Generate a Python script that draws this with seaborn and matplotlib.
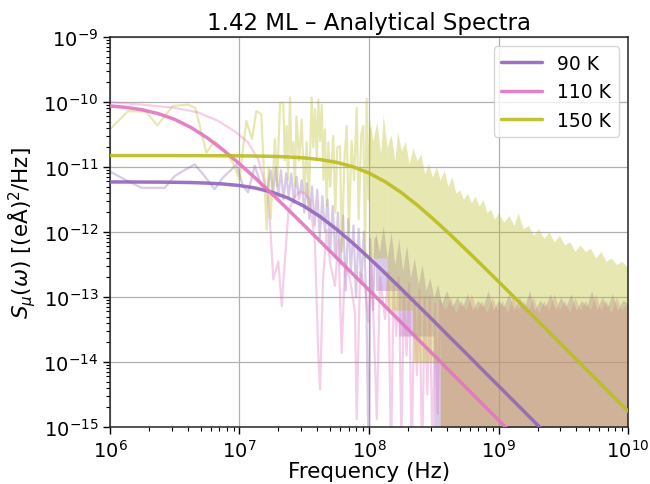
import numpy as np
import matplotlib
matplotlib.use("Agg")
import matplotlib.pyplot as plt
import seaborn as sns
from matplotlib.ticker import LogLocator, NullFormatter

# ---------------- data ----------------
labels = ["90 K", "110 K", "150 K"]
colors = ["#9467bd", "#e377c2", "#bcbd22"]

# analytical Lorentzian spectra, read at 1/8-decade frequencies
freq_grid = [1e6, 1.334e6, 1.778e6, 2.371e6, 3.162e6, 4.217e6, 5.623e6, 7.499e6,
             1e7, 1.334e7, 1.778e7, 2.371e7, 3.162e7, 4.217e7, 5.623e7, 7.499e7,
             1e8, 1.334e8, 1.778e8, 2.371e8, 3.162e8, 4.217e8, 5.623e8, 7.499e8,
             1e9, 1.334e9, 1.778e9, 2.371e9, 3.162e9, 4.217e9, 5.623e9, 7.499e9, 1e10]
analytic_90 = [5.89e-12, 5.89e-12, 5.87e-12, 5.86e-12, 5.82e-12, 5.77e-12, 5.66e-12, 5.48e-12,
               5.19e-12, 4.74e-12, 4.11e-12, 3.33e-12, 2.49e-12, 1.71e-12, 1.10e-12, 6.76e-13,
               4.00e-13, 2.32e-13, 1.33e-13, 7.53e-14, 4.27e-14, 2.40e-14, 1.36e-14, 7.62e-15,
               4.30e-15, 2.42e-15, 1.36e-15, 7.64e-16, 4.30e-16, 2.42e-16, 1.36e-16, 7.64e-17,
               4.30e-17]
analytic_110 = [8.70e-11, 8.26e-11, 7.59e-11, 6.61e-11, 5.40e-11, 4.06e-11, 2.82e-11, 1.82e-11,
                1.12e-11, 6.67e-12, 3.87e-12, 2.22e-12, 1.26e-12, 7.13e-13, 4.02e-13, 2.26e-13,
                1.28e-13, 7.18e-14, 4.04e-14, 2.27e-14, 1.28e-14, 7.18e-15, 4.04e-15, 2.27e-15,
                1.28e-15, 7.18e-16, 4.04e-16, 2.27e-16, 1.28e-16, 7.18e-17, 4.04e-17, 2.27e-17,
                1.28e-17]
analytic_150 = [1.500e-11, 1.500e-11, 1.500e-11, 1.500e-11, 1.500e-11, 1.497e-11, 1.496e-11, 1.493e-11,
                1.486e-11, 1.476e-11, 1.459e-11, 1.432e-11, 1.380e-11, 1.300e-11, 1.180e-11, 1.012e-11,
                8.07e-12, 5.93e-12, 4.04e-12, 2.57e-12, 1.56e-12, 9.20e-13, 5.32e-13, 3.04e-13,
                1.73e-13, 9.75e-14, 5.50e-14, 3.10e-14, 1.74e-14, 9.82e-15, 5.52e-15, 3.10e-15,
                1.75e-15]

# measured (noisy) spectra: resolved part, log10(frequency) and log10(S)
trace90_logf = [6.0, 6.113, 6.242, 6.422, 6.5, 6.564, 6.654, 6.718, 6.808, 6.873,
                6.937, 6.976, 7.027, 7.066, 7.118, 7.168, 7.215,
                7.24, 7.26, 7.28, 7.30, 7.32, 7.34, 7.36, 7.38, 7.40, 7.42, 7.44, 7.46,
                7.48, 7.50, 7.52, 7.54, 7.56, 7.58, 7.60, 7.62, 7.64, 7.66, 7.68, 7.70,
                7.72, 7.74, 7.76, 7.78, 7.80, 7.82, 7.84, 7.86, 7.88, 7.90, 7.92, 7.94,
                7.96, 7.98, 8.0, 8.01, 8.03, 8.05]
trace90_logs = [-11.07, -11.19, -11.32, -11.32, -11.14, -11.06, -10.96, -11.11, -11.34, -11.16,
                -11.04, -10.96, -11.29, -11.39, -10.98, -11.29, -11.34,
                -11.05, -11.4, -11.0, -11.45, -11.05, -11.5, -11.1, -11.45, -11.1, -11.55,
                -11.15, -11.5, -11.2, -11.7, -11.25, -11.8, -11.3, -11.9, -11.35, -12.1,
                -11.45, -12.0, -11.5, -12.3, -11.6, -12.4, -11.7, -12.5, -11.75, -12.9,
                -11.8, -12.6, -11.9, -13.0, -11.95, -12.8, -12.0, -13.1,
                -16.0, -12.1, -13.2, -12.1]

trace110_logf = [6.0, 6.24, 6.5, 6.68, 6.834, 6.963, 7.066, 7.143, 7.181, 7.215,
                 7.24, 7.261, 7.3, 7.326, 7.351, 7.377, 7.415, 7.454, 7.493, 7.544,
                 7.583, 7.608, 7.622, 7.645, 7.673, 7.699, 7.737, 7.763, 7.789, 7.815,
                 7.853, 7.892, 7.905, 7.931, 7.969, 7.995, 8.021, 8.06, 8.085, 8.124,
                 8.149, 8.17, 8.19, 8.21, 8.23, 8.25, 8.27, 8.29, 8.31, 8.33,
                 8.35, 8.37, 8.39, 8.41, 8.43, 8.45, 8.47, 8.49, 8.51, 8.53, 8.55]
trace110_logs = [-10.0, -10.04, -10.09, -10.16, -10.29, -10.45, -10.62, -10.88, -11.14, -11.39,
                 -12.0, -12.73, -12.45, -13.14, -12.42, -11.7, -11.5, -11.39, -11.39, -11.5,
                 -12.2, -13.85, -14.42, -12.73, -11.96, -12.47, -12.83, -12.12, -13.86, -12.47,
                 -12.73, -13.24, -14.88, -12.62, -12.83, -13.39, -12.47, -14.88, -12.7, -13.34,
                 -12.62, -15.5, -12.8, -13.6, -12.7, -15.2, -12.9, -13.9, -12.8, -15.5,
                 -13.0, -14.2, -12.9, -15.6, -13.0, -14.5, -13.0, -15.5, -13.1, -14.8, -13.05]

trace150_logf = [6.0, 6.139, 6.28, 6.365, 6.486, 6.602, 6.659, 6.744, 6.808, 6.873,
                 6.942, 7.0, 7.053, 7.097, 7.13, 7.168, 7.195, 7.21, 7.225, 7.24,
                 7.274, 7.29, 7.313, 7.338, 7.35, 7.364, 7.375, 7.39, 7.40, 7.415,
                 7.428, 7.44, 7.46, 7.48, 7.50, 7.519, 7.535, 7.557, 7.57, 7.583,
                 7.597, 7.609, 7.622, 7.635, 7.648, 7.66, 7.673, 7.686, 7.70, 7.724,
                 7.74, 7.755, 7.776, 7.79, 7.81, 7.828, 7.845, 7.865, 7.885, 7.905,
                 7.92, 7.94, 7.956, 7.97, 7.982, 7.995, 8.01]
trace150_logs = [-10.42, -10.14, -10.15, -10.36, -10.06, -10.04, -10.09, -10.78, -10.6, -10.73,
                 -10.91, -11.19, -10.29, -10.57, -10.14, -10.19, -11.34, -11.96, -11.0, -11.8,
                 -10.57, -11.3, -10.01, -10.01, -10.9, -10.37, -11.2, -9.93, -10.8, -10.62,
                 -11.3, -10.22, -10.9, -10.27, -11.4, -10.62, -11.6, -9.93, -10.7, -10.11,
                 -10.9, -9.96, -10.6, -10.04, -11.2, -10.42, -11.6, -10.62, -11.3, -10.52,
                 -11.7, -10.7, -10.68, -12.3, -10.9, -10.37, -12.0, -10.6, -11.2, -10.09,
                 -11.8, -10.5, -10.37, -12.4, -9.95, -11.5, -10.4]

# measured spectra: dense high-frequency part, upper envelope (log10)
env90_logf = [8.05, 8.08, 8.11, 8.14, 8.17, 8.20, 8.23, 8.26, 8.29, 8.32, 8.35, 8.38,
              8.41, 8.44, 8.47, 8.50, 8.53, 8.56, 8.60, 8.64, 8.68, 8.72, 8.76, 8.80,
              8.84, 8.88, 8.92, 8.96, 9.00, 9.04, 9.08, 9.12, 9.16, 9.20, 9.24, 9.28,
              9.32, 9.36, 9.40, 9.44, 9.48, 9.52, 9.56, 9.60, 9.64, 9.68, 9.72, 9.76,
              9.80, 9.84, 9.88, 9.92, 9.96, 10.0]
env90_logs = [-12.0, -12.3, -11.9, -12.4, -12.0, -12.5, -12.1, -12.6, -12.2, -12.7, -12.4, -12.8,
              -12.5, -12.9, -12.7, -13.0, -12.8, -13.1, -12.9, -13.15, -13.0, -13.15, -12.95, -13.2,
              -13.05, -13.15, -12.9, -13.2, -13.05, -13.15, -12.95, -13.2, -13.0, -13.15, -12.9, -13.2,
              -13.05, -13.15, -12.95, -13.2, -13.0, -13.15, -12.95, -13.2, -13.05, -13.15, -12.9, -13.2,
              -13.0, -13.15, -12.95, -13.2, -13.05, -13.1]

env110_logf = [8.55, 8.59, 8.63, 8.67, 8.71, 8.75, 8.79, 8.83, 8.87, 8.91, 8.95, 8.99,
               9.03, 9.07, 9.11, 9.15, 9.19, 9.23, 9.27, 9.31, 9.35, 9.39, 9.43, 9.47,
               9.51, 9.55, 9.59, 9.63, 9.67, 9.71, 9.75, 9.79, 9.83, 9.87, 9.91, 9.95, 10.0]
env110_logs = [-13.05, -13.2, -13.0, -13.25, -13.05, -13.2, -12.95, -13.2, -13.05, -13.25,
               -13.0, -13.2, -13.05, -13.25, -12.95, -13.2, -13.05, -13.2, -13.0, -13.25,
               -13.05, -13.2, -12.95, -13.2, -13.05, -13.25, -13.0, -13.2, -13.05, -13.2,
               -12.95, -13.2, -13.05, -13.25, -13.0, -13.2, -13.1]

env150_logf = [8.0, 8.03, 8.06, 8.09, 8.11, 8.14, 8.17, 8.2, 8.22, 8.25, 8.28, 8.31,
               8.34, 8.37, 8.40, 8.43, 8.46, 8.49, 8.52, 8.55, 8.58, 8.61, 8.64, 8.67,
               8.70, 8.73, 8.76, 8.79, 8.82, 8.85, 8.88, 8.91, 8.94, 8.97, 9.0, 9.04,
               9.08, 9.12, 9.15, 9.19, 9.23, 9.27, 9.31, 9.35, 9.39, 9.43, 9.47, 9.51,
               9.55, 9.59, 9.63, 9.67, 9.71, 9.75, 9.79, 9.83, 9.87, 9.91, 9.95, 10.0]
env150_logs = [-10.2, -10.6, -10.3, -10.8, -10.2, -10.7, -10.5, -10.9, -10.45, -10.75,
               -10.6, -10.95, -10.7, -10.9, -10.8, -11.1, -10.95, -11.15, -11.0, -11.2,
               -11.05, -11.3, -11.15, -11.4, -11.35, -11.5, -11.4, -11.55, -11.45, -11.6,
               -11.5, -11.7, -11.65, -11.8, -11.7, -11.85, -11.75, -11.9, -11.7, -11.95,
               -11.9, -12.05, -11.95, -12.1, -12.0, -12.15, -12.05, -12.2, -12.15, -12.3,
               -12.2, -12.3, -12.25, -12.4, -12.3, -12.45, -12.4, -12.5, -12.45, -12.55]

# lower edges of the dense regions: (start log f, end log f, log10 floor)
floors90 = [(8.05, 8.23, -12.9), (8.23, 8.50, -13.6), (8.50, 10.0, -16.0)]
floors110 = [(8.55, 10.0, -16.0)]
floors150 = [(8.0, 8.14, -12.4), (8.14, 8.34, -13.2), (8.34, 8.55, -14.0), (8.55, 10.0, -16.0)]

# ---------------- plotting ----------------
sns.set_style("ticks")
plt.rcParams["font.family"] = ["DejaVu Sans"]
plt.rcParams["text.color"] = "black"
plt.rcParams["axes.labelcolor"] = "black"
plt.rcParams["xtick.color"] = "black"
plt.rcParams["ytick.color"] = "black"

fig = plt.figure(figsize=(6.5, 4.85), dpi=100)
ax = fig.add_axes([0.1692, 0.1175, 0.797, 0.8041])
ax.set_xscale("log")
ax.set_yscale("log")

series = [
    (trace90_logf, trace90_logs, env90_logf, env90_logs, floors90),
    (trace110_logf, trace110_logs, env110_logf, env110_logs, floors110),
    (trace150_logf, trace150_logs, env150_logf, env150_logs, floors150),
]

for (tf, ts, ef, es, floors), col in zip(series, colors):
    tf = np.power(10.0, np.array(tf))
    ts = np.power(10.0, np.array(ts))
    sns.lineplot(x=tf, y=ts, color=col, alpha=0.35, lw=1.6, ax=ax,
                 estimator=None, sort=False, legend=False, zorder=2)
    ef_log = np.array(ef)
    ef_lin = np.power(10.0, ef_log)
    es_lin = np.power(10.0, np.array(es))
    for lo, hi, fl in floors:
        m = (ef_log >= lo - 1e-9) & (ef_log <= hi + 1e-9)
        ax.fill_between(ef_lin[m], 10.0 ** fl, es_lin[m], color=col, alpha=0.35,
                        lw=0, zorder=2)

handles = []
for an, col in zip([analytic_90, analytic_110, analytic_150], colors):
    sns.lineplot(x=freq_grid, y=an, color=col, lw=2.5, alpha=0.92, ax=ax,
                 estimator=None, sort=False, legend=False, zorder=3)
    handles.append(ax.lines[-1])

ax.set_xlim(1e6, 1e10)
ax.set_ylim(1e-15, 1e-9)

ax.xaxis.set_major_locator(LogLocator(base=10, numticks=20))
ax.yaxis.set_major_locator(LogLocator(base=10, numticks=20))
ax.xaxis.set_minor_locator(LogLocator(base=10, subs=np.arange(2, 10), numticks=100))
ax.yaxis.set_minor_locator(LogLocator(base=10, subs=np.arange(2, 10), numticks=100))
ax.xaxis.set_minor_formatter(NullFormatter())
ax.yaxis.set_minor_formatter(NullFormatter())

ax.grid(True, which="major", color="#b0b0b0", lw=0.9)
ax.tick_params(which="major", direction="out", length=5, width=1.0, labelsize=14)
ax.tick_params(which="minor", direction="out", length=2.8, width=0.8)
for sp in ax.spines.values():
    sp.set_color("#262626")
    sp.set_linewidth(1.1)

ax.set_title("1.42 ML – Analytical Spectra", fontsize=16.5)
ax.set_xlabel("Frequency (Hz)", fontsize=15.5, labelpad=0.5)
ax.set_ylabel(r"$S_\mu(\omega)$ [(eÅ)$^2$/Hz]", fontsize=15.5)

ax.legend(handles, labels, loc="upper right", fontsize=13.5, handlelength=2.2,
          frameon=True, framealpha=0.8, edgecolor="0.8", fancybox=True)

fig.savefig("out.png", dpi=100)
